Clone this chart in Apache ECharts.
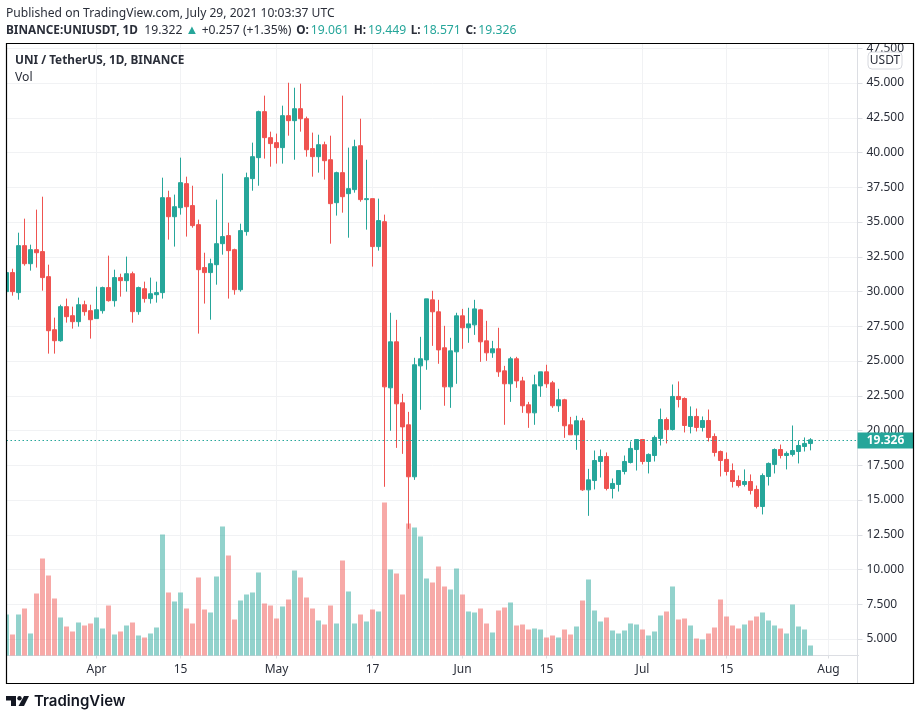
<!DOCTYPE html>
<html>
<head>
<meta charset="utf-8">
<title>UNI / TetherUS</title>
<script src="https://cdn.jsdelivr.net/npm/echarts@6/dist/echarts.min.js"></script>
<style>
html, body { margin: 0; padding: 0; background: #fff; }
#main { width: 920px; height: 720px; }
</style>
</head>
<body>
<div id="main"></div>
<script>
// one row per day from 17 Mar 2021: open, close, low, high
var candles = [
    [29.99,31.36,29.99,31.36],[31.36,29.99,29.70,31.64],[29.92,33.30,29.41,34.23],[33.30,32.00,31.86,35.24],[32.00,33.01,31.50,33.37],
    [33.01,32.79,31.72,35.89],[32.87,31.00,30.06,36.82],[31.07,27.18,25.53,31.93],[27.25,26.46,25.53,28.12],[26.46,28.91,26.39,29.05],
    [28.91,28.19,27.76,29.49],[28.26,27.83,27.33,28.91],[27.83,29.05,27.47,29.56],[29.05,28.55,28.26,29.34],[28.62,27.97,26.61,29.05],
    [28.05,28.69,28.05,30.35],[28.62,30.28,28.41,30.35],[30.28,29.34,29.27,32.58],[29.34,31.00,28.91,31.57],[31.00,30.78,29.63,31.28],
    [30.78,31.28,29.99,32.51],[31.28,28.55,27.76,31.43],[28.55,30.28,28.33,30.35],[30.20,29.49,29.20,30.71],[29.49,29.84,29.13,31.00],
    [29.77,29.92,29.20,30.71],[29.92,36.75,29.49,38.19],[36.75,35.38,33.73,37.25],[35.38,36.10,33.23,36.97],[36.03,37.83,35.53,39.63],
    [37.76,36.10,33.95,38.26],[36.18,34.74,34.59,37.61],[34.81,31.57,26.97,35.17],[31.72,31.36,29.13,32.79],[31.36,32.00,27.97,32.36],
    [31.93,33.44,30.49,36.61],[33.44,33.95,32.65,38.48],[34.02,32.94,29.49,34.95],[33.01,30.13,29.77,33.08],[30.13,34.38,29.99,34.88],
    [34.31,38.19,34.02,38.55],[38.12,39.70,37.25,40.71],[39.63,42.94,37.61,43.01],[42.94,41.07,39.56,44.09],[41.07,40.64,38.98,41.50],
    [40.71,40.35,39.20,41.36],[40.35,42.65,39.20,43.37],[42.65,42.29,41.21,45.02],[42.29,43.15,39.48,44.66],[43.15,42.43,41.50,44.95],
    [42.43,40.20,39.70,42.58],[40.28,39.70,38.26,41.43],[39.70,40.56,38.55,41.28],[40.56,39.41,38.05,40.78],[39.48,36.32,33.44,41.21],
    [36.39,38.55,35.46,38.62],[38.55,36.82,35.67,44.09],[37.04,37.40,33.87,40.35],[37.33,40.42,37.11,40.92],[40.49,36.61,36.46,42.43],
    [36.61,36.68,34.45,39.48],[36.68,33.23,31.79,36.68],[33.23,35.10,32.94,36.68],[35.02,23.14,15.95,35.53],[23.07,26.38,19.98,28.47],
    [26.38,21.92,18.75,27.96],[21.99,20.26,18.32,22.64],[20.41,16.67,12.93,21.34],[16.67,24.73,16.45,25.23],[24.65,25.16,21.49,26.74],
    [25.08,29.47,24.37,29.47],[29.40,28.54,26.09,30.05],[28.54,25.80,24.80,29.40],[25.95,23.14,21.78,27.53],[23.14,25.73,21.63,26.67],
    [25.66,28.25,23.36,28.47],[28.25,27.39,25.88,28.75],[27.39,27.67,26.31,28.83],[27.60,28.75,26.88,29.40],[28.68,26.38,24.94,28.75],
    [26.45,25.59,25.01,27.89],[25.59,25.88,25.23,26.45],[25.88,24.22,23.86,27.39],[24.29,23.36,20.41,24.65],[23.36,25.16,22.06,25.30],
    [25.16,23.57,23.07,25.30],[23.57,21.78,21.27,23.86],[21.85,21.27,20.19,22.06],[21.27,23.29,20.41,24.01],[23.21,24.22,22.42,24.22],
    [24.22,23.36,23.07,24.73],[23.43,21.78,21.63,23.57],[21.78,22.21,21.34,23.00],[22.21,20.34,19.47,22.28],[20.41,19.69,19.69,20.98],
    [19.69,20.70,18.61,21.06],[20.70,15.73,15.66,20.91],[15.73,16.45,13.86,17.24],[16.40,17.84,15.76,18.56],[17.77,18.13,16.62,18.63],
    [18.13,15.83,15.69,18.42],[15.83,16.19,15.11,16.55],[16.12,17.12,15.61,17.12],[17.05,17.77,16.84,18.20],[17.70,18.71,17.63,19.21],
    [18.63,19.35,17.12,19.35],[19.35,17.77,17.56,19.35],[17.77,18.28,16.91,18.35],[18.20,19.50,17.77,19.64],[19.43,20.79,18.92,21.58],
    [20.79,20.07,19.07,20.94],[20.07,22.45,20.00,23.31],[22.45,22.23,21.66,23.53],[22.30,20.36,19.86,22.38],[20.29,21.01,19.79,21.73],
    [21.01,20.22,19.93,21.58],[20.22,20.72,19.93,21.01],[20.72,19.50,19.21,21.51],[19.57,18.42,18.13,19.79],[18.49,17.84,16.69,18.56],
    [17.92,17.05,16.76,18.42],[17.12,16.33,15.90,17.63],[16.40,16.04,15.90,16.76],[16.12,16.33,15.97,17.20],[16.33,15.69,15.40,16.84],
    [15.76,14.53,14.39,16.04],[14.53,16.76,13.96,16.91],[16.69,17.63,16.04,17.70],[17.56,18.63,16.91,18.71],[18.63,18.20,17.99,18.99],
    [18.20,18.35,17.20,18.49],[18.28,18.56,18.13,20.36],[18.49,18.92,17.63,19.28],[18.85,19.07,18.49,19.50],[19.061,19.326,18.571,19.449]
];

// daily volume, same days as candles
var volumes = [
    4.1,2.1,4.1,4.7,2.2,6.2,9.7,8.0,5.7,3.8,
    2.9,2.4,3.3,3.0,3.2,3.8,2.7,5.0,2.1,2.4,
    3.0,3.3,2.0,1.8,2.2,2.8,12.1,6.3,5.4,6.3,
    4.7,3.2,7.8,4.6,4.3,7.9,12.9,10.0,3.6,5.5,
    6.1,6.3,8.3,5.2,5.0,3.7,4.9,5.6,8.5,7.8,
    5.8,4.7,3.5,3.1,5.0,3.2,9.5,6.4,3.2,4.1,
    3.4,4.6,4.4,15.3,8.6,8.2,6.1,13.2,12.8,11.9,
    7.7,7.3,8.9,6.9,6.6,8.7,6.1,4.4,4.3,4.7,
    3.2,2.3,4.5,4.8,5.3,3.0,3.1,2.6,2.7,2.6,
    1.8,2.0,1.8,2.6,2.1,2.9,5.5,7.6,4.5,3.4,
    3.8,2.5,2.2,2.5,3.2,3.1,2.6,2.0,2.4,4.0,
    4.4,6.9,3.6,3.7,3.0,1.7,1.6,2.2,2.8,5.6,
    3.9,3.0,2.7,3.1,3.5,3.9,4.3,3.5,3.0,2.7,
    2.2,5.1,2.9,2.6,1.0
];

var priceTicks = [5, 7.5, 10, 12.5, 15, 17.5, 20, 22.5, 25, 27.5, 30, 32.5, 35, 37.5, 40, 42.5, 45, 47.5];
var timeTicks = { '2021-04-01': 'Apr', '2021-04-15': '15', '2021-05-01': 'May', '2021-05-17': '17',
    '2021-06-01': 'Jun', '2021-06-15': '15', '2021-07-01': 'Jul', '2021-07-15': '15', '2021-08-01': 'Aug' };
var lastPrice = 19.326;

var UP = '#26a69a', DOWN = '#ef5350';
var FONT = '"Noto Sans", "Open Sans", sans-serif';

// every calendar day on the time scale, the last ones carry no candle
var days = [];
for (var d = 0; d <= 142; d++) {
    days.push(new Date(Date.UTC(2021, 2, 17 + d)).toISOString().slice(0, 10));
}

var volumeData = volumes.map(function(v, i) {
    return {
        value: v,
        itemStyle: { color: candles[i][1] < candles[i][0] ? 'rgba(239,83,80,0.5)' : 'rgba(38,166,154,0.5)' }
    };
});

function isTimeTick(index) {
    return timeTicks[days[index]] !== undefined;
}

var myChart = echarts.init(document.getElementById('main'));

var option = {
    animation: false,
    backgroundColor: '#fff',
    textStyle: { fontFamily: FONT },
    grid: [
        { left: 6.5, right: 61.5, top: 13.5, height: 660.25 },
        { left: 6.5, right: 61.5, top: 43, height: 612.5 }
    ],
    xAxis: [{
        type: 'category',
        gridIndex: 0,
        data: days,
        boundaryGap: false,
        axisLine: { show: false },
        axisTick: { show: false },
        axisLabel: { show: false },
        splitLine: { show: false }
    }, {
        type: 'category',
        gridIndex: 1,
        data: days,
        boundaryGap: false,
        axisLine: { lineStyle: { color: '#dcdee3', width: 1 } },
        axisTick: { show: true, interval: isTimeTick, length: 3, lineStyle: { color: '#dcdee3' } },
        axisLabel: {
            interval: isTimeTick,
            hideOverlap: false,
            margin: 8,
            fontSize: 12,
            color: '#2a2e39',
            formatter: function(value) { return timeTicks[value] || ''; }
        },
        splitLine: { show: true, interval: isTimeTick, lineStyle: { color: '#f1f2f4', width: 1 } }
    }],
    yAxis: [{
        type: 'value',
        gridIndex: 0,
        position: 'right',
        min: 2.5,
        max: 50,
        interval: 2.5,
        offset: -1,
        axisLine: { show: false },
        axisTick: { show: true, length: 5, lineStyle: { color: '#dcdee3' } },
        axisLabel: {
            margin: 9,
            fontSize: 12,
            color: '#2a2e39',
            padding: [2, 0, 0, 0],
            showMinLabel: false,
            showMaxLabel: false,
            formatter: function(value) { return priceTicks.indexOf(value) >= 0 ? value.toFixed(3) : ''; }
        },
        splitLine: { show: true, showMinLine: false, showMaxLine: false, lineStyle: { color: '#f1f2f4', width: 1 } }
    }, {
        type: 'value',
        gridIndex: 1,
        min: 0,
        max: 61.25,
        show: false,
        splitLine: { show: false }
    }],
    series: [{
        name: 'Vol',
        type: 'bar',
        xAxisIndex: 1,
        yAxisIndex: 1,
        barWidth: 5,
        z: 2,
        data: volumeData
    }, {
        name: 'UNIUSDT',
        type: 'candlestick',
        xAxisIndex: 0,
        yAxisIndex: 0,
        barWidth: 4,
        z: 3,
        itemStyle: { color: UP, color0: DOWN, borderColor: UP, borderColor0: DOWN, borderWidth: 1 },
        data: candles,
        markLine: {
            silent: true,
            symbol: 'none',
            animation: false,
            lineStyle: { color: UP, type: [1.5, 2.5], width: 1.2 },
            label: { show: false },
            data: [{ yAxis: lastPrice }]
        }
    }],
    graphic: [
        // white around the frame, hides the upper half of the top price label and the first candle's left half
        { type: 'rect', shape: { x: 0, y: 0, width: 920, height: 43 }, style: { fill: '#fff' }, z: 50 },
        { type: 'rect', shape: { x: 0, y: 684, width: 920, height: 36 }, style: { fill: '#fff' }, z: 50 },
        { type: 'rect', shape: { x: 0, y: 0, width: 6.5, height: 720 }, style: { fill: '#fff' }, z: 50 },
        { type: 'line', shape: { x1: 857.5, y1: 43, x2: 857.5, y2: 683 }, style: { stroke: '#dcdee3', lineWidth: 1 }, z: 60 },
        { type: 'rect', shape: { x: 6.5, y: 43.5, width: 907, height: 640 }, style: { fill: null, stroke: '#000', lineWidth: 1.2 }, z: 70 },

        // scale currency badge
        { type: 'rect', shape: { x: 868, y: 52, width: 34, height: 17, r: 4 }, style: { fill: '#fff', stroke: '#d6d8de', lineWidth: 1 }, z: 60 },
        { type: 'text', style: { x: 885, y: 60.5, text: 'USDT', align: 'center', verticalAlign: 'middle', font: '12px ' + FONT, fill: '#2a2e39' }, z: 61 },

        // last price tag
        { type: 'rect', shape: { x: 857.5, y: 432.5, width: 56, height: 16 }, style: { fill: UP }, z: 60 },
        { type: 'text', style: { x: 885.5, y: 440.5, text: lastPrice.toFixed(3), align: 'center', verticalAlign: 'middle', font: 'bold 12px ' + FONT, fill: '#fff' }, z: 61 },

        // header lines
        { type: 'text', style: { x: 6, y: 13.5, text: 'Published on TradingView.com, July 29, 2021 10:03:37 UTC', verticalAlign: 'middle', font: '12.1px ' + FONT, fill: '#2a2e39' }, z: 61 },
        { type: 'text', style: { x: 6, y: 30.5, verticalAlign: 'middle', fill: '#2a2e39', font: '12.2px ' + FONT,
            text: '{b|BINANCE:UNIUSDT, 1D}  19.322 {t|▲} +0.257 (+1.35%) {k|O:}{v|19.061} {k|H:}{v|19.449} {k|L:}{v|18.571} {k|C:}{v|19.326}',
            rich: {
                b: { fontWeight: 'bold', fontSize: 11.8, fontFamily: FONT, fill: '#2a2e39' },
                k: { fontWeight: 'bold', fontSize: 11.8, fontFamily: FONT, fill: '#2a2e39', padding: [0, 2, 0, 1.5] },
                v: { fontSize: 12.2, fontFamily: FONT, fill: '#26a69a' },
                t: { fontSize: 13, fontFamily: FONT, fill: '#26a69a' }
            } }, z: 61 },

        // legend in the pane
        { type: 'text', style: { x: 15, y: 61, text: 'UNI / TetherUS, 1D, BINANCE', verticalAlign: 'middle', font: 'bold 11.8px ' + FONT, fill: '#2a2e39' }, z: 61 },
        { type: 'text', style: { x: 15, y: 78, text: 'Vol', verticalAlign: 'middle', font: '12.2px ' + FONT, fill: '#2a2e39' }, z: 61 },

        // TradingView logo
        { type: 'polygon', shape: { points: [[6, 696], [16, 696], [16, 706], [11, 706], [11, 700.5], [6, 700.5]] }, style: { fill: '#131722' }, z: 61 },
        { type: 'circle', shape: { cx: 19.5, cy: 698.2, r: 2.2 }, style: { fill: '#131722' }, z: 61 },
        { type: 'polygon', shape: { points: [[24, 696], [29, 696], [24, 706], [18.5, 706]] }, style: { fill: '#131722' }, z: 61 },
        { type: 'text', style: { x: 34, y: 701, text: 'TradingView', verticalAlign: 'middle', font: '600 15px Inter, ' + FONT, fill: '#131722' }, z: 61 }
    ]
};

myChart.setOption(option);
</script>
</body>
</html>
